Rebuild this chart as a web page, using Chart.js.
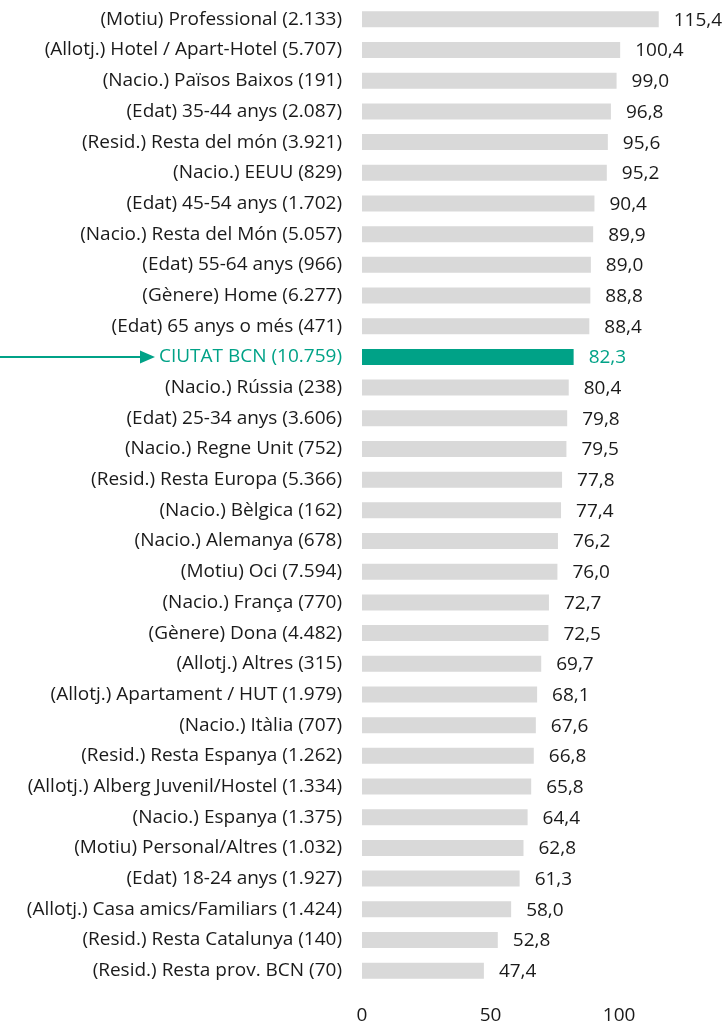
<!DOCTYPE html>
<html>
<head>
<meta charset="utf-8">
<script src="https://cdn.jsdelivr.net/npm/chart.js@4.4.0/dist/chart.umd.min.js"></script>
<style>
  html, body { margin: 0; padding: 0; background: #fff; }
  #wrap { width: 723px; height: 1023px; }
</style>
</head>
<body>
<div id="wrap"><canvas id="chart"></canvas></div>
<script>
// Categories and values (top to bottom)
const categories = [
    '(Motiu) Professional (2.133)',
    '(Allotj.) Hotel / Apart-Hotel (5.707)',
    '(Nacio.) Països Baixos (191)',
    '(Edat) 35-44 anys (2.087)',
    '(Resid.) Resta del món (3.921)',
    '(Nacio.) EEUU (829)',
    '(Edat) 45-54 anys (1.702)',
    '(Nacio.) Resta del Món (5.057)',
    '(Edat) 55-64 anys (966)',
    '(Gènere) Home (6.277)',
    '(Edat) 65 anys o més (471)',
    'CIUTAT BCN (10.759)',
    '(Nacio.) Rússia (238)',
    '(Edat) 25-34 anys (3.606)',
    '(Nacio.) Regne Unit (752)',
    '(Resid.) Resta Europa (5.366)',
    '(Nacio.) Bèlgica (162)',
    '(Nacio.) Alemanya (678)',
    '(Motiu) Oci (7.594)',
    '(Nacio.) França (770)',
    '(Gènere) Dona (4.482)',
    '(Allotj.) Altres (315)',
    '(Allotj.) Apartament / HUT (1.979)',
    '(Nacio.) Itàlia (707)',
    '(Resid.) Resta Espanya (1.262)',
    '(Allotj.) Alberg Juvenil/Hostel (1.334)',
    '(Nacio.) Espanya (1.375)',
    '(Motiu) Personal/Altres (1.032)',
    '(Edat) 18-24 anys (1.927)',
    '(Allotj.) Casa amics/Familiars (1.424)',
    '(Resid.) Resta Catalunya (140)',
    '(Resid.) Resta prov. BCN (70)'
];
const values = [
    115.4, 100.4, 99.0, 96.8, 95.6, 95.2, 90.4, 89.9, 89.0, 88.8, 88.4,
    82.3, 80.4, 79.8, 79.5, 77.8, 77.4, 76.2, 76.0, 72.7, 72.5, 69.7,
    68.1, 67.6, 66.8, 65.8, 64.4, 62.8, 61.3, 58.0, 52.8, 47.4
];
const highlightLabel = 'CIUTAT BCN (10.759)';
const xTicks = [0, 50, 100];

const GREY = '#d9d9d9';
const TEAL = '#00a287';
const TEXT = '#1a1a1a';
const FONT = 'Open Sans';
const FSIZE = 19;

const isHl = i => categories[i] === highlightLabel;

// value labels at the end of each bar
const valueLabels = {
    id: 'valueLabels',
    afterDatasetsDraw(chart) {
        const ctx = chart.ctx;
        const meta = chart.getDatasetMeta(0);
        ctx.save();
        ctx.font = FSIZE + 'px "' + FONT + '"';
        ctx.textBaseline = 'middle';
        ctx.textAlign = 'left';
        meta.data.forEach((bar, i) => {
            ctx.fillStyle = isHl(i) ? TEAL : TEXT;
            ctx.fillText(values[i].toFixed(1).replace('.', ','), bar.x + 15, bar.y + 1);
        });
        ctx.restore();
    }
};

// arrow pointing at the highlighted category
const arrow = {
    id: 'arrow',
    afterDraw(chart) {
        const idx = categories.indexOf(highlightLabel);
        const y = chart.scales.y.getPixelForValue(idx);
        const ctx = chart.ctx;
        ctx.save();
        ctx.strokeStyle = TEAL;
        ctx.fillStyle = TEAL;
        ctx.lineWidth = 2;
        ctx.beginPath();
        ctx.moveTo(0, y);
        ctx.lineTo(142, y);
        ctx.stroke();
        ctx.beginPath();
        ctx.moveTo(155, y);
        ctx.lineTo(140, y - 6.5);
        ctx.lineTo(140, y + 6.5);
        ctx.closePath();
        ctx.fill();
        ctx.restore();
    }
};

new Chart(document.getElementById('chart'), {
    type: 'bar',
    data: {
        labels: categories,
        datasets: [{
            data: values,
            backgroundColor: categories.map((c, i) => isHl(i) ? TEAL : GREY),
            categoryPercentage: 1.0,
            barPercentage: 0.52
        }]
    },
    options: {
        indexAxis: 'y',
        responsive: true,
        maintainAspectRatio: false,
        animation: false,
        layout: { padding: { top: 4, right: 1, left: 0, bottom: 0 } },
        plugins: {
            legend: { display: false },
            tooltip: { enabled: false }
        },
        scales: {
            x: {
                min: 0,
                max: 140,
                grid: { display: false, drawTicks: false },
                border: { display: false },
                afterBuildTicks(scale) {
                    scale.ticks = xTicks.map(v => ({ value: v }));
                },
                ticks: {
                    padding: 18,
                    color: TEXT,
                    font: { family: FONT, size: FSIZE }
                },
                afterFit(scale) {
                    scale.height = 37;
                    scale.paddingLeft = 0;
                    scale.paddingRight = 0;
                }
            },
            y: {
                grid: { display: false, drawTicks: false },
                border: { display: false },
                ticks: {
                    padding: 20,
                    autoSkip: false,
                    color: ctx => isHl(ctx.index) ? TEAL : TEXT,
                    font: { family: FONT, size: FSIZE }
                },
                afterFit(scale) {
                    scale.width = 362;
                    scale.paddingTop = 0;
                    scale.paddingBottom = 0;
                }
            }
        }
    },
    plugins: [valueLabels, arrow]
});
</script>
</body>
</html>
